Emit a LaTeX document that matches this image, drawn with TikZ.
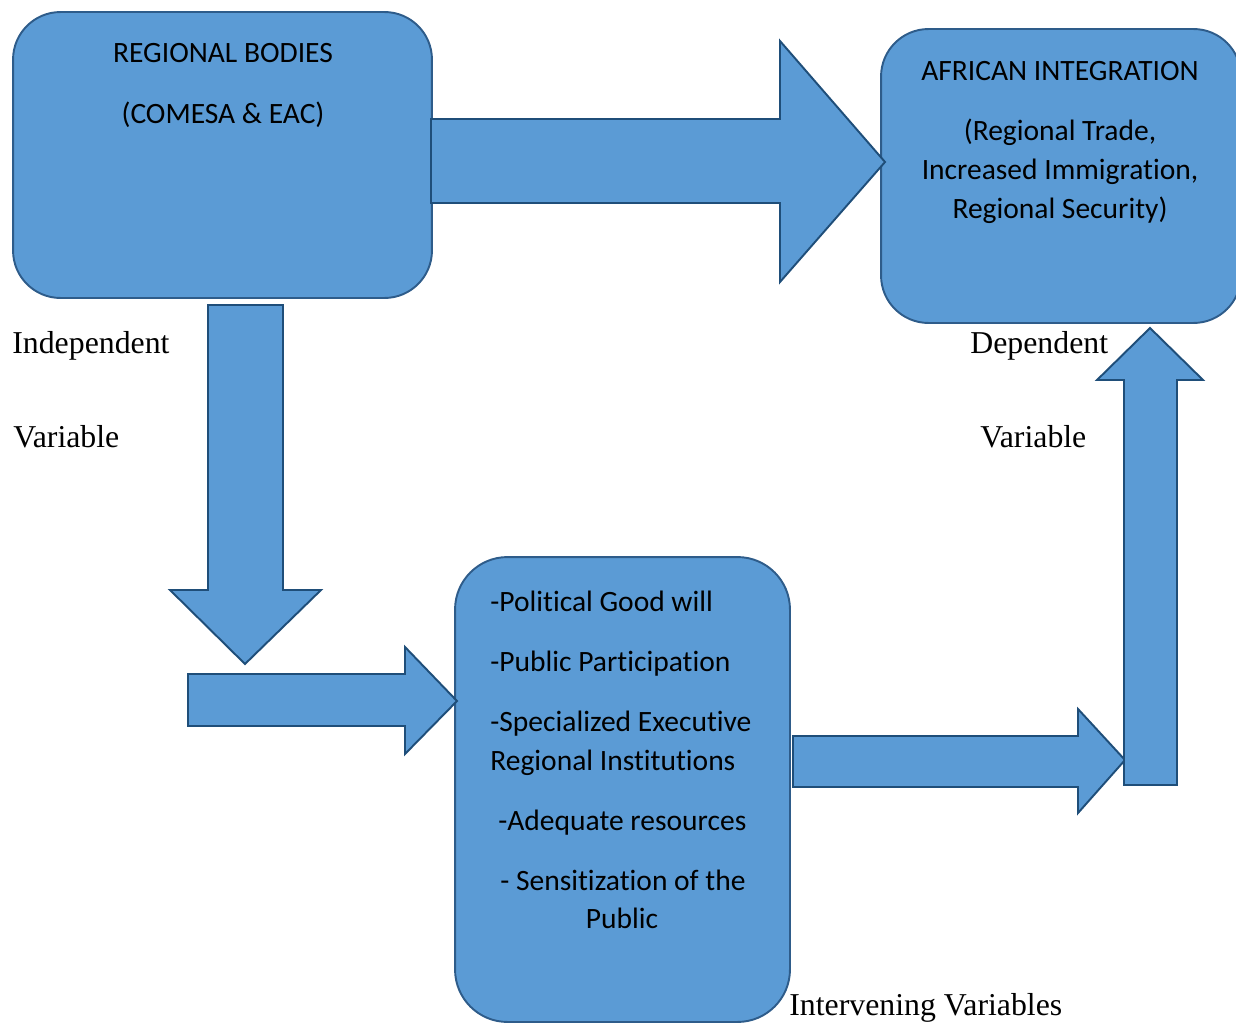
\documentclass[tikz,border=0pt]{standalone}
\usepackage{fontspec}
\setmainfont{Liberation Serif}
\newfontfamily\calibfont[Ligatures=NoCommon]{Carlito}
\definecolor{boxfill}{HTML}{5B9BD5}
\definecolor{boxline}{HTML}{2E5C8A}
\definecolor{arrline}{HTML}{1F4E79}
\tikzset{
  box/.style={draw=boxline, fill=boxfill, line width=1.1pt, rounded corners=0.95cm, inner sep=0pt, outer sep=0pt},
  blockarrow/.style={draw=arrline, fill=boxfill, line width=1.1pt, line join=miter},
  boxtext/.style={font=\calibfont\fontsize{16.8}{22}\selectfont, inner sep=0pt},
  vartext/.style={font=\fontsize{18.1}{21}\selectfont, inner sep=0pt, anchor=base west}
}
\begin{document}
\begin{tikzpicture}[x=0.02cm,y=-0.02cm]
\useasboundingbox (0,0) rectangle (1236,1024);

% boxes
\node[box, minimum width=8.38cm, minimum height=5.72cm] (regional) at (222.5,155) {};
\node[box, minimum width=7.2cm, minimum height=5.88cm] (integration) at (1061,176) {};
\node[box, minimum width=6.7cm, minimum height=9.3cm, rounded corners=1.05cm] (factors) at (622.5,789.5) {};

% block arrows
\draw[blockarrow] (431,119) -- (780,119) -- (780,41) -- (885,162) -- (780,282) -- (780,203) -- (431,203) -- cycle;
\draw[blockarrow] (208,305) -- (283,305) -- (283,590) -- (321,590) -- (245,664) -- (170,590) -- (208,590) -- cycle;
\draw[blockarrow] (188,674) -- (405,674) -- (405,647) -- (457,701) -- (405,754) -- (405,726) -- (188,726) -- cycle;
\draw[blockarrow] (793,736) -- (1078,736) -- (1078,709) -- (1125,760) -- (1078,813) -- (1078,787) -- (793,787) -- cycle;
\draw[blockarrow] (1124,785) -- (1124,380) -- (1097,380) -- (1150,328) -- (1203,380) -- (1177,380) -- (1177,785) -- cycle;

% box texts
\node[boxtext, anchor=base] (regtitle) at (223,63) {REGIONAL BODIES};
\node[boxtext, anchor=base] (regsub) at (223,123) {(COMESA \& EAC)};
\node[boxtext, anchor=base] (integtitle) at (1060,81) {AFRICAN INTEGRATION};
\node[boxtext, anchor=base] (intega) at (1060,140) {(Regional Trade,};
\node[boxtext, anchor=base] (integb) at (1060,179) {Increased Immigration,};
\node[boxtext, anchor=base] (integc) at (1060,218) {Regional Security)};
\node[boxtext, anchor=base west] (fa) at (490,611) {-Political Good will};
\node[boxtext, anchor=base west] (fb) at (490,671) {-Public Participation};
\node[boxtext, anchor=base west] (fc) at (490,731) {-Specialized Executive};
\node[boxtext, anchor=base west] (fd) at (490,770) {Regional Institutions};
\node[boxtext, anchor=base west] (fe) at (498,830) {-Adequate resources};
\node[boxtext, anchor=base west] (ff) at (500,890) {- Sensitization of the};
\node[boxtext, anchor=base] (fg) at (622,928) {Public};

% variable labels
\node[vartext] (indep) at (12,353) {Independent};
\node[vartext] (indepvar) at (13,447) {Variable};
\node[vartext] (dep) at (970,353) {Dependent};
\node[vartext] (depvar) at (980,447) {Variable};
\node[vartext] (interv) at (789,1015) {Intervening Variables};
\end{tikzpicture}
\end{document}
